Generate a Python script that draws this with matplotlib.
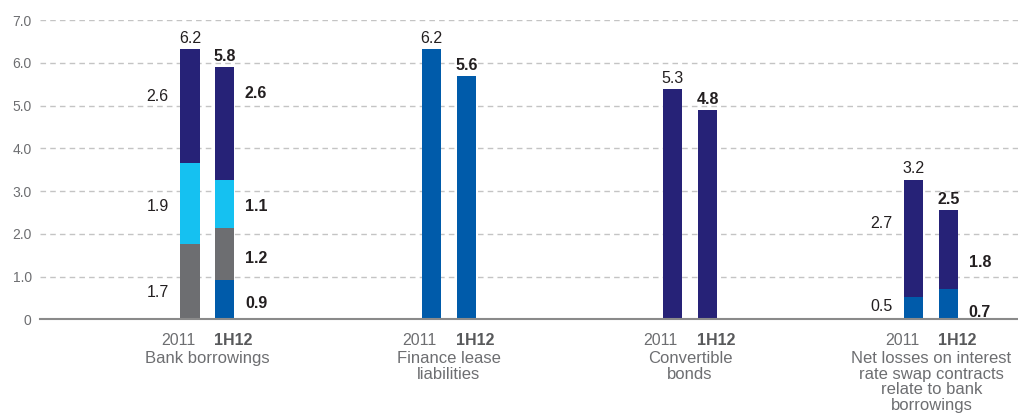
import matplotlib
matplotlib.use("Agg")
import matplotlib.pyplot as plt
import numpy as np

plt.rcParams['font.family'] = ['Liberation Sans', 'DejaVu Sans']

groups = ["Bank borrowings", "Finance lease\nliabilities", "Convertible\nbonds",
          "Net losses on interest\nrate swap contracts\nrelate to bank\nborrowings"]
periods = ["2011", "1H12"]

# stacked segments, bottom to top: blue, grey, cyan, navy (heights)
blue_2011 = [0.0, 6.32, 0.0, 0.51]
blue_1h12 = [0.92, 5.68, 0.0, 0.71]
grey_2011 = [1.75, 0.0, 0.0, 0.0]
grey_1h12 = [1.21, 0.0, 0.0, 0.0]
cyan_2011 = [1.91, 0.0, 0.0, 0.0]
cyan_1h12 = [1.12, 0.0, 0.0, 0.0]
navy_2011 = [2.66, 0.0, 5.38, 2.75]
navy_1h12 = [2.64, 0.0, 4.89, 1.84]

# printed labels
blue_lab_2011 = ["", "", "", "0.5"]
blue_lab_1h12 = ["0.9", "", "", "0.7"]
grey_lab_2011 = ["1.7", "", "", ""]
grey_lab_1h12 = ["1.2", "", "", ""]
cyan_lab_2011 = ["1.9", "", "", ""]
cyan_lab_1h12 = ["1.1", "", "", ""]
navy_lab_2011 = ["2.6", "", "", "2.7"]
navy_lab_1h12 = ["2.6", "", "", "1.8"]
total_2011 = ["6.2", "6.2", "5.3", "3.2"]
total_1h12 = ["5.8", "5.6", "4.8", "2.5"]

yticks = [0, 1, 2, 3, 4, 5, 6, 7]
ytick_labels = ["0", "1.0", "2.0", "3.0", "4.0", "5.0", "6.0", "7.0"]

# layout: vertical anchor (axis units) of each segment label, as placed in the original
label_pos_2011 = {"blue": [0, 0, 0, 0.29], "grey": [0.62, 0, 0, 0],
                  "cyan": [2.63, 0, 0, 0], "navy": [5.22, 0, 0, 2.25]}
label_pos_1h12 = {"blue": [0.38, 0, 0, 0.17], "grey": [1.43, 0, 0, 0],
                  "cyan": [2.63, 0, 0, 0], "navy": [5.27, 0, 0, 1.34]}

colors = {"blue": "#005BAA", "grey": "#6D6E71", "cyan": "#15C1F1", "navy": "#262277"}
text_dark = "#231F20"
text_grey = "#6D6E71"

W, H = 1018, 416
fig = plt.figure(figsize=(W / 100, H / 100), dpi=100)
ax = fig.add_axes([40 / W, (H - 319.3) / H, (W - 40) / W, (319.3 - 20) / H])

x = np.arange(len(groups))
off = 0.0725
bw = 0.079

series = [
    ("blue", blue_2011, blue_1h12, blue_lab_2011, blue_lab_1h12),
    ("grey", grey_2011, grey_1h12, grey_lab_2011, grey_lab_1h12),
    ("cyan", cyan_2011, cyan_1h12, cyan_lab_2011, cyan_lab_1h12),
    ("navy", navy_2011, navy_1h12, navy_lab_2011, navy_lab_1h12),
]

bottom_a = np.zeros(len(groups))
bottom_b = np.zeros(len(groups))
for name, va, vb, la, lb in series:
    va = np.array(va); vb = np.array(vb)
    ax.bar(x - off, va, bw, bottom=bottom_a, color=colors[name], zorder=3)
    ax.bar(x + off, vb, bw, bottom=bottom_b, color=colors[name], zorder=3)
    for i in range(len(groups)):
        if la[i]:
            ax.annotate(la[i], (x[i] - off - bw / 2, label_pos_2011[name][i]),
                        xytext=(-8.5, 0), textcoords="offset points", ha="right", va="center",
                        fontsize=11.5, color=text_dark)
        if lb[i]:
            ax.annotate(lb[i], (x[i] + off + bw / 2, label_pos_1h12[name][i]),
                        xytext=(7.5, 0), textcoords="offset points", ha="left", va="center",
                        fontsize=11.5, color=text_dark, fontweight="bold")
    bottom_a = bottom_a + va
    bottom_b = bottom_b + vb

for i in range(len(groups)):
    ax.annotate(total_2011[i], (x[i] - off, bottom_a[i]), xytext=(0, 2.5), textcoords="offset points",
                ha="center", va="bottom", fontsize=11.5, color=text_dark)
    ax.annotate(total_1h12[i], (x[i] + off, bottom_b[i]), xytext=(0, 2.5), textcoords="offset points",
                ha="center", va="bottom", fontsize=11.5, color=text_dark, fontweight="bold")
    ax.annotate(periods[0], (x[i] - off, 0), xytext=(-8.6, -15.6), textcoords="offset points",
                ha="center", va="center", fontsize=11.5, color=text_grey)
    ax.annotate(periods[1], (x[i] + off, 0), xytext=(6.3, -15.6), textcoords="offset points",
                ha="center", va="center", fontsize=11.5, color="#58595B", fontweight="bold")
    ax.annotate(groups[i], (x[i], 0), xytext=(0, -22.5), textcoords="offset points",
                ha="center", va="top", fontsize=12, color=text_grey, linespacing=1.08)

ax.set_xlim(-0.694, 3.359)
ax.set_ylim(0, 7)
ax.set_yticks(yticks)
ax.set_yticklabels(ytick_labels, fontsize=10, color=text_grey)
ax.set_xticks([])
ax.tick_params(axis="y", length=0, pad=6)
for s in ["top", "right", "left"]:
    ax.spines[s].set_visible(False)
ax.spines["bottom"].set_color("#8a8a8a")
ax.spines["bottom"].set_linewidth(1.5)
ax.spines["bottom"].set_zorder(4)
ax.yaxis.grid(True, color="#c4c4c4", linestyle=(0, (4, 3)), linewidth=1.0, zorder=0)
ax.set_axisbelow(True)

fig.savefig("out.png", dpi=100)
